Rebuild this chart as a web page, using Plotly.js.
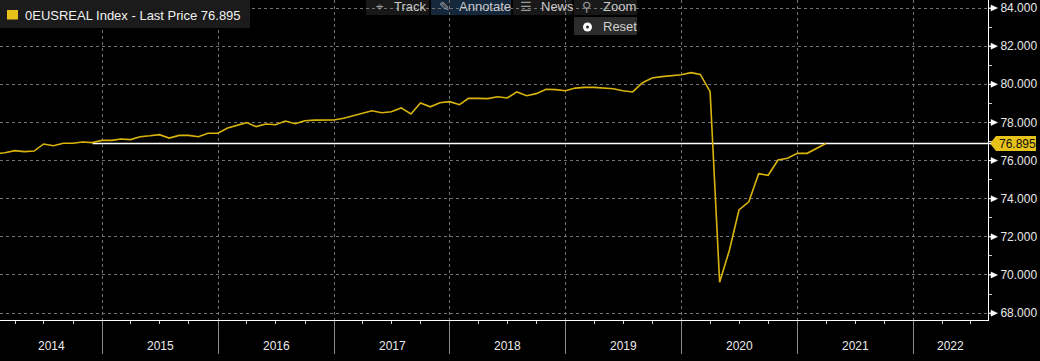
<!DOCTYPE html>
<html><head><meta charset="utf-8">
<script src="https://cdn.plot.ly/plotly-3.0.1.min.js"></script>
<style>html,body{margin:0;padding:0;background:#000;}#chart{width:1040px;height:361px;}</style>
</head><body><div id="chart"></div>
<script>
// ---------------- data ----------------
const seriesName = '0EUSREAL Index - Last Price';
const lastPrice = 76.895;
const dates = [
 '2014-01-31','2014-02-28','2014-03-31','2014-04-30','2014-05-31','2014-06-30','2014-07-31','2014-08-31','2014-09-30','2014-10-31','2014-11-30','2014-12-31',
 '2015-01-31','2015-02-28','2015-03-31','2015-04-30','2015-05-31','2015-06-30','2015-07-31','2015-08-31','2015-09-30','2015-10-31','2015-11-30','2015-12-31',
 '2016-01-31','2016-02-29','2016-03-31','2016-04-30','2016-05-31','2016-06-30','2016-07-31','2016-08-31','2016-09-30','2016-10-31','2016-11-30','2016-12-31',
 '2017-01-31','2017-02-28','2017-03-31','2017-04-30','2017-05-31','2017-06-30','2017-07-31','2017-08-31','2017-09-30','2017-10-31','2017-11-30','2017-12-31',
 '2018-01-31','2018-02-28','2018-03-31','2018-04-30','2018-05-31','2018-06-30','2018-07-31','2018-08-31','2018-09-30','2018-10-31','2018-11-30','2018-12-31',
 '2019-01-31','2019-02-28','2019-03-31','2019-04-30','2019-05-31','2019-06-30','2019-07-31','2019-08-31','2019-09-30','2019-10-31','2019-11-30','2019-12-31',
 '2020-01-31','2020-02-29','2020-03-31','2020-04-30','2020-05-31','2020-06-30','2020-07-31','2020-08-31','2020-09-30','2020-10-31','2020-11-30','2020-12-31',
 '2021-01-31','2021-02-28','2021-03-31'
];
const values = [
 76.36,76.41,76.52,76.47,76.50,76.87,76.78,76.91,76.91,76.97,76.94,77.06,
 77.06,77.13,77.10,77.25,77.30,77.36,77.18,77.32,77.32,77.25,77.43,77.43,
 77.71,77.85,77.99,77.78,77.92,77.88,78.07,77.93,78.09,78.12,78.12,78.13,
 78.22,78.35,78.51,78.61,78.51,78.56,78.76,78.44,79.02,78.82,79.03,79.09,
 78.93,79.26,79.26,79.25,79.35,79.28,79.60,79.40,79.51,79.74,79.72,79.66,
 79.80,79.84,79.84,79.82,79.77,79.66,79.60,80.08,80.33,80.40,80.45,80.50,
 80.61,80.52,79.61,69.62,71.31,73.41,73.84,75.31,75.23,76.03,76.12,76.38,
 76.38,76.61,76.895
];
const yearLabels = ['2014','2015','2016','2017','2018','2019','2020','2021','2022'];
const yTicks = [68,70,72,74,76,78,80,82,84];
const toolbarLabels = ['Track','Annotate','News','Zoom'];
const resetLabel = 'Reset';

// ---------------- layout helpers ----------------
const W = 1040, H = 361;
const M = {l: 0, r: 52, t: 0, b: 41};
const PW = W - M.l - M.r, PH = H - M.t - M.b;
const xRange = ['2014-02-12 12:00', '2022-08-24'];
const yRange = [67.64, 84.42];
const px = p => p / PW;
const py = p => 1 - p / PH;
const vy = v => (v - yRange[0]) / (yRange[1] - yRange[0]);
const FONT = 'Liberation Sans, Arial, sans-serif';
const LINE = '#d9b40c';
const YEL = '#e6c21a';

function toDateStr(ms) {
  const d = new Date(ms);
  const p = n => String(n).padStart(2, '0');
  return d.getUTCFullYear() + '-' + p(d.getUTCMonth() + 1) + '-' + p(d.getUTCDate()) + ' ' + p(d.getUTCHours()) + ':' + p(d.getUTCMinutes());
}
const rStart = Date.parse(xRange[0].replace(' ', 'T') + ':00Z');
const rEnd = Date.parse(xRange[1] + 'T00:00:00Z');

const shapes = [];
const annotations = [];

// last price line (below the series)
shapes.push({type: 'line', xref: 'x', yref: 'y', x0: '2014-12-01', x1: xRange[1], y0: lastPrice, y1: lastPrice,
  line: {color: '#ffffff', width: 1.5}, layer: 'below'});

// y tick pointers
yTicks.forEach(v => {
  const yc = vy(v), h = 3 / PH;
  shapes.push({type: 'path', xref: 'paper', yref: 'paper',
    path: `M ${px(PW)},${yc} L ${px(PW + 3)},${yc} L ${px(PW + 3)},${yc + h} L ${px(PW + 9.5)},${yc} L ${px(PW + 3)},${yc - h} L ${px(PW + 3)},${yc} Z`,
    fillcolor: '#ffffff', line: {color: '#ffffff', width: 0.5}, layer: 'above'});
});

// last price tag
{
  const yc = vy(lastPrice), h = 7.5 / PH;
  shapes.push({type: 'path', xref: 'paper', yref: 'paper',
    path: `M ${px(PW + 2)},${yc} L ${px(PW + 8)},${yc + h} L ${px(PW + 48)},${yc + h} L ${px(PW + 48)},${yc - h} L ${px(PW + 8)},${yc - h} Z`,
    fillcolor: YEL, line: {width: 0}, layer: 'above'});
  shapes.push({type: 'line', xref: 'paper', yref: 'paper', x0: 1, x1: px(PW + 3), y0: yc, y1: yc,
    line: {color: '#ffffff', width: 1.5}, layer: 'above'});
  annotations.push({xref: 'paper', yref: 'y', x: px(PW + 29), y: lastPrice, xanchor: 'center', yanchor: 'middle',
    text: lastPrice.toFixed(3), showarrow: false, font: {family: FONT, size: 12, color: '#111111'}});
}

// legend box
shapes.push({type: 'rect', xref: 'paper', yref: 'paper', x0: px(0), x1: px(250), y0: py(28), y1: py(0),
  fillcolor: '#1b1b1b', line: {width: 0}, layer: 'above'});
shapes.push({type: 'rect', xref: 'paper', yref: 'paper', x0: px(7), x1: px(18), y0: py(19.5), y1: py(10),
  fillcolor: YEL, line: {width: 0}, layer: 'above'});
annotations.push({xref: 'paper', yref: 'paper', x: px(23), y: py(15), xanchor: 'left', yanchor: 'middle',
  text: seriesName + ' ' + lastPrice.toFixed(3), showarrow: false, font: {family: FONT, size: 13, color: '#f0f0f0'}});

// toolbar
const btnBox = [[366, 429], [431, 511], [513, 572], [574, 637]];
const btnText = [392, 457, 539, 601];
const btnIcon = ['⌖', '✎', '☰', '⚲'];
const btnIconX = [380, 444, 526, 587];
const btnFill = ['#181818', '#14273b', '#181818', '#181818'];
toolbarLabels.forEach((t, i) => {
  shapes.push({type: 'rect', xref: 'paper', yref: 'paper', x0: px(btnBox[i][0]), x1: px(btnBox[i][1]), y0: py(15), y1: py(0),
    fillcolor: btnFill[i], line: {width: 0}, layer: 'below'});
  annotations.push({xref: 'paper', yref: 'paper', x: px(btnText[i]), y: py(6), xanchor: 'left', yanchor: 'middle',
    text: t, showarrow: false, font: {family: FONT, size: 13, color: '#c8c8c8'}});
  annotations.push({xref: 'paper', yref: 'paper', x: px(btnIconX[i]), y: py(6), xanchor: 'center', yanchor: 'middle',
    text: btnIcon[i], showarrow: false, font: {family: 'DejaVu Sans', size: 13, color: '#9a9a9a'}});
});
shapes.push({type: 'rect', xref: 'paper', yref: 'paper', x0: px(574), x1: px(637), y0: py(35), y1: py(17),
  fillcolor: '#2c2c2c', line: {width: 0}, layer: 'below'});
shapes.push({type: 'circle', xref: 'paper', yref: 'paper', x0: px(583), x1: px(592), y0: py(31.5), y1: py(22.5),
  fillcolor: '#ffffff', line: {width: 0}, layer: 'above'});
shapes.push({type: 'circle', xref: 'paper', yref: 'paper', x0: px(586), x1: px(589), y0: py(28.5), y1: py(25.5),
  fillcolor: '#2c2c2c', line: {width: 0}, layer: 'above'});
annotations.push({xref: 'paper', yref: 'paper', x: px(601), y: py(27), xanchor: 'left', yanchor: 'middle',
  text: resetLabel, showarrow: false, font: {family: FONT, size: 13, color: '#d0d0d0'}});

// year labels centred on the visible part of each year
yearLabels.forEach(y => {
  const s = Math.max(Date.UTC(+y, 0, 1), rStart);
  const e = Math.min(Date.UTC(+y + 1, 0, 1), rEnd);
  if (e <= s) return;
  annotations.push({xref: 'x', yref: 'paper', x: toDateStr((s + e) / 2), y: 0, yshift: -26,
    xanchor: 'center', yanchor: 'middle', text: y, showarrow: false,
    font: {family: FONT, size: 12, color: '#ececec'}});
});

const trace = {
  type: 'scatter', mode: 'lines', x: dates, y: values, name: seriesName,
  line: {color: LINE, width: 1.6}, hoverinfo: 'skip'
};

const layout = {
  width: W, height: H, margin: M,
  paper_bgcolor: '#000000', plot_bgcolor: '#000000', showlegend: false,
  font: {family: FONT, color: '#e8e8e8', size: 12},
  xaxis: {
    type: 'date', range: xRange, fixedrange: true,
    tickmode: 'array', tickvals: yearLabels.map(y => y + '-01-01'), showticklabels: false,
    ticks: 'outside', ticklen: 33, tickcolor: '#8c8c8c', tickwidth: 1,
    showgrid: true, gridcolor: '#737373', griddash: 'dot', gridwidth: 1,
    showline: true, linecolor: '#ffffff', linewidth: 1, zeroline: false,
    minor: {ticks: 'outside', ticklen: 3, tickcolor: '#d0d0d0', tickwidth: 1, dtick: 'M3', tick0: '2014-01-01', showgrid: false}
  },
  yaxis: {
    side: 'right', range: yRange, fixedrange: true,
    tickmode: 'array', tickvals: yTicks, ticktext: yTicks.map(v => v.toFixed(3)),
    ticks: 'outside', ticklen: 9, tickcolor: 'rgba(0,0,0,0)',
    tickfont: {family: FONT, size: 12, color: '#e8e8e8'},
    showgrid: true, gridcolor: '#737373', griddash: 'dot', gridwidth: 1,
    showline: true, linecolor: '#ffffff', linewidth: 1, zeroline: false,
    minor: {ticks: 'outside', ticklen: 3, tickcolor: '#d0d0d0', tickwidth: 1, dtick: 1, tick0: 67, showgrid: false}
  },
  shapes: shapes,
  annotations: annotations
};

Plotly.newPlot('chart', [trace], layout, {displayModeBar: false, staticPlot: true});
</script>
</body></html>
